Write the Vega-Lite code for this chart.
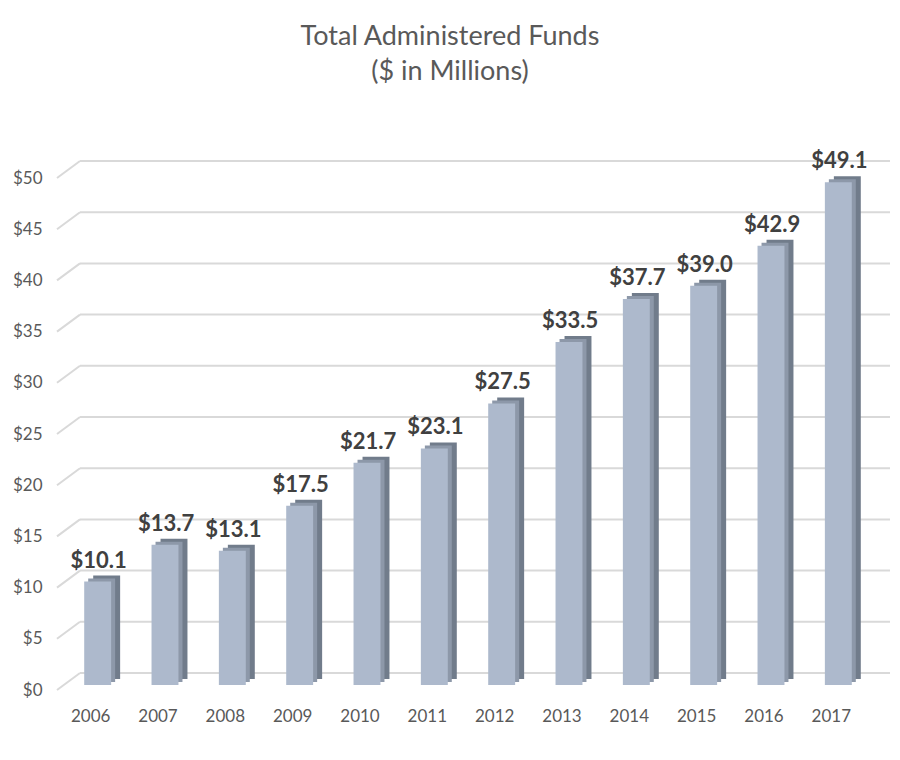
{
  "$schema": "https://vega.github.io/schema/vega-lite/v6.json",
  "width": 808,
  "height": 512,
  "autosize": {"type": "none"},
  "padding": {"left": 57, "top": 178, "right": 35, "bottom": 70},
  "background": "white",
  "config": {"view": {"stroke": null}, "font": "Lato"},
  "title": {
    "text": ["Total Administered Funds", "($ in Millions)"],
    "anchor": "middle",
    "frame": "group",
    "dx": -11,
    "offset": 64,
    "fontSize": 27,
    "fontWeight": "normal",
    "font": "Lato",
    "color": "#595959",
    "lineHeight": 35
  },
  "datasets": {
    "funds": [
      {"year": "2006", "value": 10.1},
      {"year": "2007", "value": 13.7},
      {"year": "2008", "value": 13.1},
      {"year": "2009", "value": 17.5},
      {"year": "2010", "value": 21.7},
      {"year": "2011", "value": 23.1},
      {"year": "2012", "value": 27.5},
      {"year": "2013", "value": 33.5},
      {"year": "2014", "value": 37.7},
      {"year": "2015", "value": 39.0},
      {"year": "2016", "value": 42.9},
      {"year": "2017", "value": 49.1}
    ],
    "grid": [
      {"v": 0}, {"v": 5}, {"v": 10}, {"v": 15}, {"v": 20}, {"v": 25},
      {"v": 30}, {"v": 35}, {"v": 40}, {"v": 45}, {"v": 50}
    ]
  },
  "layer": [
    {
      "data": {"name": "grid"},
      "mark": {"type": "rule", "color": "#d9d9d9", "strokeWidth": 2, "yOffset": -17},
      "encoding": {
        "y": {"field": "v", "type": "quantitative", "scale": {"domain": [0, 50]},
              "axis": {"values": [0,5,10,15,20,25,30,35,40,45,50], "format": "$.0f", "title": null, "domain": false, "ticks": false, "grid": false, "labelPadding": 15, "labelFontSize": 17, "labelColor": "#595959", "labelFont": "Lato"}},
        "x": {"value": 23},
        "x2": {"value": {"expr": "width + 25"}}
      }
    },
    {
      "data": {"name": "grid"},
      "mark": {"type": "rule", "color": "#d9d9d9", "strokeWidth": 2, "y2Offset": -17},
      "encoding": {
        "y": {"field": "v", "type": "quantitative"},
        "y2": {"field": "v"},
        "x": {"value": 0},
        "x2": {"value": 23}
      }
    },
    {
      "data": {"name": "funds"},
      "mark": {"type": "bar", "color": "#717c8b", "xOffset": 16, "yOffset": -11, "y2Offset": -11},
      "encoding": {
        "x": {"field": "year", "type": "nominal", "scale": {"paddingInner": 0.6, "paddingOuter": 0.3},
              "axis": {"title": null, "labelAngle": 0, "domain": false, "ticks": false, "labelPadding": 18, "labelFontSize": 17, "labelColor": "#595959", "labelFont": "Lato"}},
        "y": {"field": "value", "type": "quantitative"}
      }
    },
    {
      "data": {"name": "funds"},
      "mark": {"type": "bar", "color": "#8d98a9", "xOffset": 11, "yOffset": -8, "y2Offset": -8},
      "encoding": {
        "x": {"field": "year", "type": "nominal"},
        "y": {"field": "value", "type": "quantitative"}
      }
    },
    {
      "data": {"name": "funds"},
      "mark": {"type": "bar", "color": "#adb9cc", "xOffset": 7, "yOffset": -5, "y2Offset": -2},
      "encoding": {
        "x": {"field": "year", "type": "nominal"},
        "y": {"field": "value", "type": "quantitative"}
      }
    },
    {
      "data": {"name": "funds"},
      "mark": {"type": "text", "fontSize": 22, "fontWeight": "bold", "font": "Lato", "color": "#404040", "baseline": "middle", "xOffset": 8, "yOffset": -26},
      "encoding": {
        "x": {"field": "year", "type": "nominal"},
        "y": {"field": "value", "type": "quantitative"},
        "text": {"field": "value", "type": "quantitative", "format": "$.1f"}
      }
    }
  ]
}
